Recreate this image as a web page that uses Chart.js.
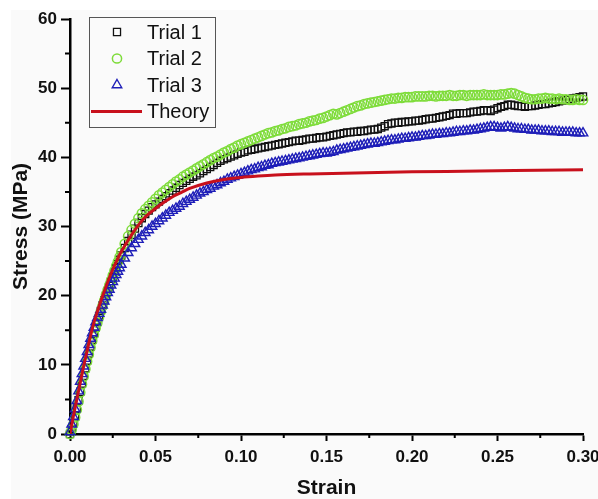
<!DOCTYPE html>
<html>
<head>
<meta charset="utf-8">
<script src="https://cdn.jsdelivr.net/npm/chart.js@4.4.1/dist/chart.umd.min.js"></script>
<style>
  body { margin: 0; background: #fff; }
  canvas { display: block; }
</style>
</head>
<body>
<canvas id="myChart" width="598" height="499"></canvas>
<script>
// strain values shared by the three trials
const strain = [
  0.000, 0.001, 0.002, 0.003, 0.004, 0.005, 0.006, 0.007, 0.008, 0.009,
  0.010, 0.011, 0.012, 0.013, 0.014, 0.015, 0.016, 0.017, 0.018, 0.019,
  0.020, 0.021, 0.022, 0.023, 0.024, 0.025, 0.026, 0.027, 0.028, 0.029,
  0.030, 0.032, 0.034, 0.036, 0.038, 0.040, 0.042, 0.044, 0.046, 0.048,
  0.050, 0.052, 0.054, 0.056, 0.058, 0.060, 0.062, 0.064, 0.066, 0.068,
  0.070, 0.072, 0.074, 0.076, 0.078, 0.080, 0.082, 0.084, 0.086, 0.088,
  0.090, 0.092, 0.094, 0.096, 0.098, 0.100, 0.102, 0.104, 0.106, 0.108,
  0.110, 0.112, 0.114, 0.116, 0.118, 0.120, 0.122, 0.124, 0.126, 0.128,
  0.130, 0.132, 0.134, 0.136, 0.138, 0.140, 0.142, 0.144, 0.146, 0.148,
  0.150, 0.152, 0.154, 0.156, 0.158, 0.160, 0.162, 0.164, 0.166, 0.168,
  0.170, 0.172, 0.174, 0.176, 0.178, 0.180, 0.182, 0.184, 0.186, 0.188,
  0.190, 0.192, 0.194, 0.196, 0.198, 0.200, 0.202, 0.204, 0.206, 0.208,
  0.210, 0.212, 0.214, 0.216, 0.218, 0.220, 0.222, 0.224, 0.226, 0.228,
  0.230, 0.232, 0.234, 0.236, 0.238, 0.240, 0.242, 0.244, 0.246, 0.248,
  0.250, 0.252, 0.254, 0.256, 0.258, 0.260, 0.262, 0.264, 0.266, 0.268,
  0.270, 0.272, 0.274, 0.276, 0.278, 0.280, 0.282, 0.284, 0.286, 0.288,
  0.290, 0.292, 0.294, 0.296, 0.298, 0.300
];

const trial1 = [
  0.0, 0.7, 1.6, 2.6, 3.7, 4.9, 6.1, 7.3, 8.4, 9.5,
  10.6, 11.6, 12.6, 13.6, 14.5, 15.4, 16.2, 17.0, 17.8, 18.6,
  19.3, 20.0, 20.7, 21.4, 22.1, 22.7, 23.4, 24.0, 24.6, 25.2,
  25.8, 26.9, 27.9, 28.8, 29.7, 30.5, 31.2, 31.8, 32.3, 32.8,
  33.2, 33.6, 34.0, 34.4, 34.8, 35.2, 35.6, 36.0, 36.3, 36.6,
  36.9, 37.2, 37.4, 37.7, 38.0, 38.3, 38.6, 38.9, 39.2, 39.5,
  39.7, 39.9, 40.1, 40.3, 40.5, 40.7, 40.8, 41.0, 41.1, 41.2,
  41.3, 41.4, 41.5, 41.6, 41.7, 41.8, 41.9, 42.0, 42.1, 42.2,
  42.3, 42.4, 42.4, 42.5, 42.6, 42.7, 42.7, 42.8, 42.9, 42.9,
  43.0, 43.1, 43.2, 43.3, 43.4, 43.5, 43.6, 43.6, 43.7, 43.7,
  43.8, 43.8, 43.9, 44.0, 44.0, 44.1, 44.3, 44.5, 44.8, 44.9,
  45.0, 45.0, 45.1, 45.1, 45.2, 45.2, 45.3, 45.3, 45.4, 45.5,
  45.6, 45.6, 45.7, 45.8, 45.9, 46.0, 46.1, 46.3, 46.3, 46.4,
  46.4, 46.4, 46.5, 46.6, 46.6, 46.7, 46.8, 46.8, 46.7, 46.9,
  47.1, 47.3, 47.4, 47.6, 47.6, 47.5, 47.4, 47.4, 47.3, 47.4,
  47.4, 47.5, 47.6, 47.7, 47.7, 47.8, 47.9, 48.0, 48.1, 48.2,
  48.3, 48.4, 48.5, 48.6, 48.7, 48.8
];

const trial2 = [
  0.0, 0.6, 1.4, 2.4, 3.5, 4.7, 6.0, 7.2, 8.3, 9.4,
  10.5, 11.5, 12.5, 13.5, 14.4, 15.3, 16.1, 16.9, 17.7, 18.5,
  19.3, 20.1, 20.8, 21.5, 22.2, 22.9, 23.6, 24.3, 24.9, 25.6,
  26.3, 27.5, 28.6, 29.5, 30.4, 31.2, 31.9, 32.5, 33.0, 33.5,
  34.0, 34.5, 34.9, 35.3, 35.7, 36.1, 36.5, 36.8, 37.2, 37.5,
  37.8, 38.1, 38.4, 38.7, 39.0, 39.3, 39.6, 39.9, 40.1, 40.4,
  40.7, 40.9, 41.2, 41.4, 41.7, 41.9, 42.1, 42.3, 42.5, 42.7,
  42.9, 43.1, 43.3, 43.5, 43.6, 43.8, 43.9, 44.1, 44.2, 44.4,
  44.5, 44.6, 44.8, 44.9, 45.0, 45.2, 45.3, 45.4, 45.6, 45.7,
  45.9, 46.1, 46.3, 46.2, 46.4, 46.6, 46.8, 47.0, 47.2, 47.4,
  47.5, 47.7, 47.8, 47.9, 48.0, 48.1, 48.2, 48.3, 48.4, 48.5,
  48.5, 48.6, 48.6, 48.7, 48.7, 48.7, 48.8, 48.8, 48.8, 48.8,
  48.9, 48.9, 48.8, 48.9, 48.9, 48.9, 49.0, 48.9, 48.9, 49.0,
  49.0, 48.9, 49.0, 49.0, 49.0, 49.0, 49.1, 49.0, 49.0, 49.0,
  49.0, 49.1, 49.1, 49.2, 49.3, 49.2, 49.0, 48.8, 48.6, 48.5,
  48.4, 48.4, 48.5, 48.5, 48.6, 48.5, 48.5, 48.4, 48.5, 48.4,
  48.4, 48.3, 48.3, 48.4, 48.3, 48.3
];

const trial3 = [
  0.3, 1.4, 2.5, 3.6, 4.8, 6.2, 7.6, 8.7, 9.8, 10.9,
  11.9, 12.9, 13.8, 14.6, 15.4, 16.2, 16.8, 17.4, 18.0, 18.6,
  19.2, 19.8, 20.4, 20.9, 21.5, 22.0, 22.5, 23.0, 23.5, 24.0,
  24.5, 25.4, 26.2, 26.9, 27.5, 28.1, 28.6, 29.1, 29.5, 30.0,
  30.4, 30.8, 31.2, 31.6, 32.0, 32.3, 32.6, 32.9, 33.3, 33.6,
  33.9, 34.2, 34.5, 34.8, 35.0, 35.3, 35.5, 35.8, 36.0, 36.3,
  36.5, 36.8, 37.0, 37.2, 37.4, 37.6, 37.8, 38.0, 38.2, 38.3,
  38.5, 38.6, 38.8, 38.9, 39.1, 39.2, 39.3, 39.4, 39.5, 39.6,
  39.7, 39.8, 39.9, 40.0, 40.1, 40.2, 40.3, 40.4, 40.5, 40.6,
  40.6, 40.7, 40.8, 41.0, 41.1, 41.2, 41.3, 41.4, 41.5, 41.6,
  41.7, 41.8, 41.9, 42.0, 42.0, 42.1, 42.2, 42.3, 42.4, 42.5,
  42.5, 42.6, 42.7, 42.7, 42.8, 42.9, 42.9, 43.0, 43.1, 43.1,
  43.2, 43.3, 43.3, 43.4, 43.4, 43.5, 43.5, 43.6, 43.7, 43.7,
  43.8, 43.8, 43.9, 43.9, 44.0, 44.1, 44.2, 44.3, 44.4, 44.4,
  44.3, 44.2, 44.3, 44.4, 44.3, 44.2, 44.1, 44.1, 44.0, 44.0,
  43.9, 43.9, 43.9, 43.8, 43.8, 43.8, 43.7, 43.7, 43.7, 43.6,
  43.6, 43.6, 43.6, 43.5, 43.5, 43.5
];

const theoryStrain = [0, 0.002, 0.004, 0.006, 0.008, 0.010, 0.012, 0.014, 0.016, 0.018,
  0.020, 0.024, 0.028, 0.032, 0.036, 0.040, 0.045, 0.050, 0.055, 0.060,
  0.065, 0.070, 0.080, 0.090, 0.100, 0.110, 0.120, 0.140, 0.160, 0.180,
  0.200, 0.230, 0.260, 0.300];
const theoryStress = [0, 2.6, 5.0, 7.4, 9.8, 12.0, 14.2, 16.1, 17.7, 19.2,
  20.6, 23.2, 25.4, 27.2, 28.8, 30.2, 31.6, 32.6, 33.5, 34.3,
  34.9, 35.5, 36.3, 36.8, 37.1, 37.3, 37.45, 37.6, 37.7, 37.8,
  37.9, 38.0, 38.1, 38.2];

const xTicks = [0, 0.05, 0.10, 0.15, 0.20, 0.25, 0.30];
const xTickLabels = ["0.00", "0.05", "0.10", "0.15", "0.20", "0.25", "0.30"];
const yTicks = [0, 10, 20, 30, 40, 50, 60];
const xMinor = [0.025, 0.075, 0.125, 0.175, 0.225, 0.275];
const yMinor = [5, 15, 25, 35, 45, 55];

const family = "'Liberation Sans', Arial, sans-serif";

function pts(xs, ys) {
  return xs.map((x, i) => ({ x: x, y: ys[i] }));
}

const background = {
  id: "background",
  beforeDraw(chart) {
    const ctx = chart.ctx;
    ctx.save();
    ctx.fillStyle = "#ffffff";
    ctx.fillRect(0, 0, chart.width, chart.height);
    ctx.fillStyle = "#fafafa";
    ctx.fillRect(11, 10, chart.width - 11, chart.height - 10);
    ctx.restore();
  },
};

const minorTicks = {
  id: "minorTicks",
  afterDraw(chart) {
    const ctx = chart.ctx;
    const area = chart.chartArea;
    ctx.save();
    ctx.strokeStyle = "#000";
    ctx.lineWidth = 2;
    ctx.beginPath();
    for (const v of yMinor) {
      const py = chart.scales.y.getPixelForValue(v);
      ctx.moveTo(area.left - 5, py);
      ctx.lineTo(area.left, py);
    }
    for (const v of xMinor) {
      const px = chart.scales.x.getPixelForValue(v);
      ctx.moveTo(px, area.bottom);
      ctx.lineTo(px, area.bottom + 4);
    }
    ctx.stroke();
    ctx.restore();
  },
};

// legend in a framed box inside the plot
const boxLegend = {
  id: "boxLegend",
  afterDraw(chart) {
    const ctx = chart.ctx;
    const area = chart.chartArea;
    const left = area.left + 19;
    const top = area.top - 2;
    ctx.save();
    ctx.fillStyle = "#fafafa";
    ctx.fillRect(left, top, 126, 110);
    ctx.strokeStyle = "#555";
    ctx.lineWidth = 1;
    ctx.strokeRect(left + 0.5, top + 0.5, 126, 110);
    ctx.font = "20px " + family;
    ctx.textBaseline = "middle";
    chart.data.datasets.forEach((ds, i) => {
      const cy = top + 15 + i * 26.5;
      if (ds.showLine) {
        ctx.strokeStyle = ds.borderColor;
        ctx.lineWidth = ds.borderWidth;
        ctx.beginPath();
        ctx.moveTo(left + 2, cy);
        ctx.lineTo(left + 53, cy);
        ctx.stroke();
      } else {
        ctx.strokeStyle = ds.pointBorderColor;
        ctx.fillStyle = "rgba(0,0,0,0)";
        ctx.lineWidth = ds.pointBorderWidth;
        Chart.helpers.drawPoint(ctx, {
          pointStyle: ds.pointStyle,
          radius: ds.pointRadius,
          rotation: 0,
          borderWidth: ds.pointBorderWidth,
        }, left + 28, cy);
      }
      ctx.fillStyle = "#111";
      ctx.fillText(ds.label, left + 58, cy + 1);
    });
    ctx.restore();
  },
};

const ctx = document.getElementById("myChart");
new Chart(ctx, {
  type: "scatter",
  data: {
    datasets: [
      {
        label: "Trial 1",
        data: pts(strain, trial1),
        showLine: false,
        pointStyle: "rect",
        pointRadius: 5,
        pointBorderColor: "#111111",
        pointBackgroundColor: "rgba(0,0,0,0)",
        pointBorderWidth: 1.3,
        clip: false,
        order: 4,
      },
      {
        label: "Trial 2",
        data: pts(strain, trial2),
        showLine: false,
        pointStyle: "circle",
        pointRadius: 4.6,
        pointBorderColor: "#7edc3a",
        pointBackgroundColor: "rgba(0,0,0,0)",
        pointBorderWidth: 1.5,
        clip: false,
        order: 3,
      },
      {
        label: "Trial 3",
        data: pts(strain, trial3),
        showLine: false,
        pointStyle: "triangle",
        pointRadius: 5.5,
        pointBorderColor: "#1e1eb8",
        pointBackgroundColor: "rgba(0,0,0,0)",
        pointBorderWidth: 1.4,
        clip: false,
        order: 2,
      },
      {
        label: "Theory",
        data: pts(theoryStrain, theoryStress),
        showLine: true,
        borderColor: "#c8101c",
        borderWidth: 3,
        pointRadius: 0,
        cubicInterpolationMode: "monotone",
        order: 1,
      },
    ],
  },
  options: {
    responsive: false,
    animation: false,
    events: [],
    layout: { padding: { left: 0, right: 15, top: 19, bottom: 0 } },
    plugins: {
      legend: { display: false },
      tooltip: { enabled: false },
    },
    scales: {
      x: {
        type: "linear",
        min: 0,
        max: 0.3,
        afterBuildTicks: (s) => { s.ticks = xTicks.map((v) => ({ value: v })); },
        afterFit: (s) => { s.height = 65; s.paddingLeft = 0; s.paddingRight = 0; },
        ticks: {
          callback: (v, i) => xTickLabels[i],
          font: { family: family, size: 17, weight: "bold" },
          color: "#111",
          padding: 6,
          maxRotation: 0,
          autoSkip: false,
        },
        grid: { display: true, drawOnChartArea: false, drawTicks: true, tickLength: 7, tickWidth: 2, tickColor: "#000" },
        border: { display: true, color: "#000", width: 2.5 },
        title: {
          display: true,
          text: "Strain",
          font: { family: family, size: 21, weight: "bold", lineHeight: 1 },
          color: "#111",
          padding: { top: 0, bottom: 0 },
        },
      },
      y: {
        min: 0,
        max: 60,
        afterBuildTicks: (s) => { s.ticks = yTicks.map((v) => ({ value: v })); },
        afterFit: (s) => { s.width = 70; },
        ticks: {
          font: { family: family, size: 17, weight: "bold" },
          color: "#111",
          padding: 4,
        },
        grid: { display: true, drawOnChartArea: false, drawTicks: true, tickLength: 9, tickWidth: 2, tickColor: "#000" },
        border: { display: true, color: "#000", width: 2.5 },
        title: {
          display: true,
          text: "Stress (MPa)",
          font: { family: family, size: 21, weight: "bold", lineHeight: 1 },
          color: "#111",
          padding: { top: 11, bottom: 0 },
        },
      },
    },
  },
  plugins: [background, minorTicks, boxLegend],
});
</script>
</body>
</html>
